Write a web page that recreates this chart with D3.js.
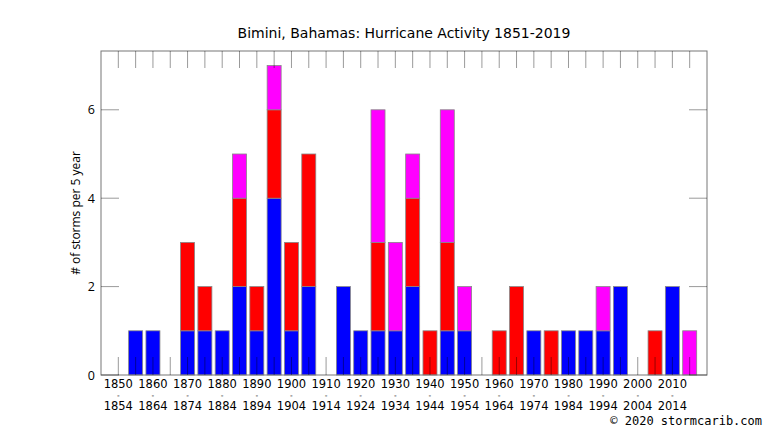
<!DOCTYPE html>
<html>
<head>
<meta charset="utf-8">
<script src="https://cdn.jsdelivr.net/npm/d3@7"></script>
<style>
  body { margin: 0; background: #fff; overflow: hidden; }
  svg { display: block; }
</style>
</head>
<body>
<div id="chart"></div>
<script>
// 5-year periods starting 1850 ... 2015
const periods = d3.range(1850, 2020, 5);
// storms per period, split by category (stacked bottom to top)
const blueCounts    = [0,1,1,0,1,1,1,2,1,4,1,2,0,2,1,1,1,2,0,1,1,0,0,0,1,0,1,1,1,2,0,0,2,0];
const redCounts     = [0,0,0,0,2,1,0,2,1,2,2,3,0,0,0,2,0,2,1,2,0,0,1,2,0,1,0,0,0,0,0,1,0,0];
const magentaCounts = [0,0,0,0,0,0,0,1,0,1,0,0,0,0,0,3,2,1,0,3,1,0,0,0,0,0,0,0,1,0,0,0,0,1];
const yTicks = [0, 2, 4, 6];
const titleText = 'Bimini, Bahamas: Hurricane Activity 1851-2019';
const yLabel = '# of storms per 5 year';
const credit = '\u00a9 2020 stormcarib.com';

const width = 766, height = 431;
const margin = { top: 51, right: 59, bottom: 56, left: 101 };

const svg = d3.select('#chart')
  .append('svg')
  .attr('width', width)
  .attr('height', height)
  .attr('font-family', 'DejaVu Sans, sans-serif');

// scales in page coordinates
const xScale = d3.scaleLinear()
  .domain([-1, periods.length])
  .range([margin.left, width - margin.right]);

const yScale = d3.scaleLinear()
  .domain([0, 7.33])
  .range([height - margin.bottom, margin.top]);

const x0 = xScale.range()[0], x1 = xScale.range()[1];
const yBottom = yScale.range()[0], yTop = yScale.range()[1];
const barW = 14;

// Stacked bars
const stackData = periods.map((p, i) => ({ i, blue: blueCounts[i], red: redCounts[i], magenta: magentaCounts[i] }));
const stack = d3.stack().keys(['blue', 'red', 'magenta']);
const colors = { blue: '#0000ff', red: '#ff0000', magenta: '#ff00ff' };

stack(stackData).forEach(layer => {
  svg.append('g')
    .selectAll('rect')
    .data(layer.filter(d => d[1] > d[0]))
    .enter()
    .append('rect')
    .attr('x', d => xScale(d.data.i) - barW / 2)
    .attr('y', d => yScale(d[1]))
    .attr('width', barW)
    .attr('height', d => yScale(d[0]) - yScale(d[1]))
    .attr('fill', colors[layer.key])
    .attr('stroke', '#888')
    .attr('stroke-width', 0.8);
});

// Border
svg.append('rect')
  .attr('x', x0)
  .attr('y', yTop)
  .attr('width', x1 - x0)
  .attr('height', yBottom - yTop)
  .attr('fill', 'none')
  .attr('stroke', '#777')
  .attr('stroke-width', 1);

// x ticks, bottom and top
const tickLen = 18;
const idx = periods.map((p, i) => i);
svg.append('g')
  .selectAll('line')
  .data(idx)
  .enter()
  .append('line')
  .attr('x1', d => xScale(d)).attr('x2', d => xScale(d))
  .attr('y1', yBottom).attr('y2', yBottom - tickLen)
  .attr('stroke', '#000')
  .attr('stroke-opacity', 0.4);

svg.append('g')
  .selectAll('line')
  .data(idx)
  .enter()
  .append('line')
  .attr('x1', d => xScale(d)).attr('x2', d => xScale(d))
  .attr('y1', yTop).attr('y2', yTop + tickLen - 1)
  .attr('stroke', '#000')
  .attr('stroke-opacity', 0.4);

// y ticks, left and right
yTicks.forEach(t => {
  svg.append('line')
    .attr('x1', x0).attr('x2', x0 + tickLen)
    .attr('y1', yScale(t)).attr('y2', yScale(t))
    .attr('stroke', '#000').attr('stroke-opacity', 0.4);
  svg.append('line')
    .attr('x1', x1).attr('x2', x1 - tickLen)
    .attr('y1', yScale(t)).attr('y2', yScale(t))
    .attr('stroke', '#000').attr('stroke-opacity', 0.4);
  svg.append('text')
    .attr('x', x0 - 6)
    .attr('y', yScale(t) + 4.5)
    .attr('text-anchor', 'end')
    .attr('font-family', 'Open Sans, sans-serif')
    .attr('font-size', 12.5)
    .text(t);
});

// x labels (every decade): start year, small dash, end year
periods.forEach((p, i) => {
  if (p % 10 !== 0) return;
  [[p, 13, 11.5], ['-', 22.8, 7.5], [p + 4, 35, 11.5]].forEach(([txt, dy, fs]) => {
    svg.append('text')
      .attr('x', xScale(i))
      .attr('y', yBottom + dy)
      .attr('text-anchor', 'middle')
      .attr('font-size', fs)
      .text(txt);
  });
});

// title
svg.append('text')
  .attr('x', 404)
  .attr('y', 38)
  .attr('text-anchor', 'middle')
  .attr('font-size', 14)
  .text(titleText);

// y axis label
svg.append('text')
  .attr('transform', `translate(80,${(yTop + yBottom) / 2}) rotate(-90)`)
  .attr('text-anchor', 'middle')
  .attr('font-family', 'Open Sans, sans-serif')
  .attr('font-size', 12)
  .text(yLabel);

// credit
svg.append('text')
  .attr('x', 762)
  .attr('y', 425)
  .attr('text-anchor', 'end')
  .attr('font-family', 'DejaVu Sans Mono, monospace')
  .attr('font-size', 12)
  .text(credit);
</script>
</body>
</html>
